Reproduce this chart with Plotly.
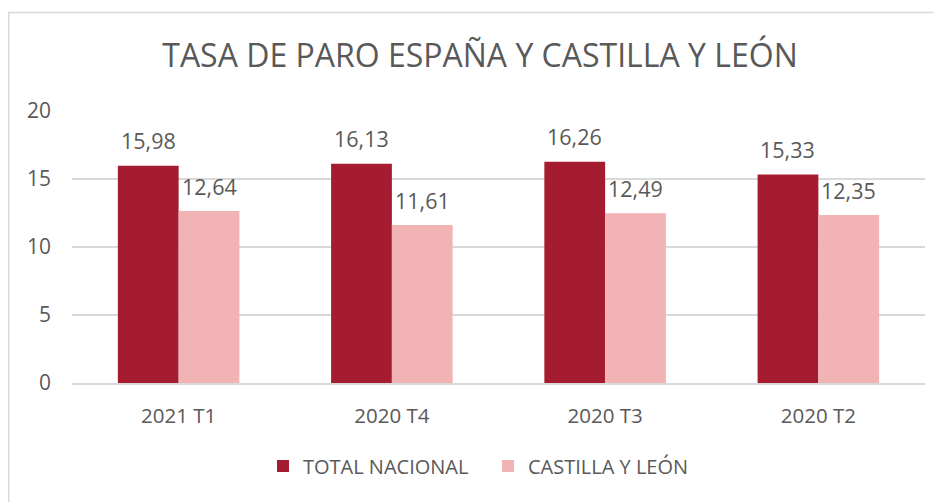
import plotly.graph_objects as go

categories = ["2021 T1", "2020 T4", "2020 T3", "2020 T2"]
total_nacional = [15.98, 16.13, 16.26, 15.33]
castilla_leon = [12.64, 11.61, 12.49, 12.35]
series_names = ["TOTAL NACIONAL", "CASTILLA Y LEÓN"]
colors = ["#A51B30", "#F1B3B3"]

FONT = "Open Sans"
GRAY = "#595959"

fig = go.Figure()
for name, vals, col in zip(series_names, [total_nacional, castilla_leon], colors):
    fig.add_trace(go.Bar(x=categories, y=vals, name=name, marker_color=col,
                         marker_line_width=0))

# data labels above bars
for i, vals in enumerate([total_nacional, castilla_leon]):
    shift = -30.5 if i == 0 else 30.5
    for c, v in zip(categories, vals):
        fig.add_annotation(x=c, y=v, text=f"{v:.2f}".replace(".", ","),
                           showarrow=False, xshift=shift, yshift=25,
                           font=dict(family=FONT, size=21.5, color=GRAY))

# page has an 8px body margin; figure is sized/placed to compensate
W, H = 934, 494
L, R, T, B = 64, 17, 103, 119
pw, ph = W - L - R, H - T - B

fig.add_shape(type="rect", xref="paper", yref="paper",
              x0=(0.75 - L) / pw, x1=(960 - L) / pw,
              y0=(H - B - 520) / ph, y1=(H - B - 4.5) / ph,
              line=dict(color="#D9D9D9", width=1.5), fillcolor="rgba(0,0,0,0)",
              layer="below")

fig.update_layout(
    width=W, height=H,
    margin=dict(l=L, r=R, t=T, b=B),
    paper_bgcolor="white", plot_bgcolor="white",
    separators=",.",
    barmode="group", bargap=0.43, bargroupgap=0,
    title=dict(text="TASA DE PARO ESPAÑA Y CASTILLA Y LEÓN",
               x=472 / W, xanchor="center", y=1 - 48 / H, yanchor="middle",
               font=dict(family=FONT, size=32, color=GRAY)),
    font=dict(family=FONT, color=GRAY),
    showlegend=True,
    legend=dict(orientation="h", x=(255 - L) / pw, xanchor="left",
                y=(H - B - 458) / ph, yanchor="middle",
                font=dict(family=FONT, size=20, color=GRAY),
                itemwidth=30, traceorder="normal",
                entrywidth=180, entrywidthmode="pixels"),
    xaxis=dict(showline=True, linecolor="#D9D9D9", linewidth=1.5,
               tickfont=dict(family=FONT, size=20.5, color=GRAY),
               ticks="", ticklabelstandoff=14),
    yaxis=dict(range=[0, 20], dtick=5, showgrid=True, gridcolor="#D9D9D9",
               gridwidth=1.5, zeroline=False, showline=False,
               tickfont=dict(family=FONT, size=21, color=GRAY),
               ticks="", ticklabelstandoff=20),
)

fig.write_html("out.html")
